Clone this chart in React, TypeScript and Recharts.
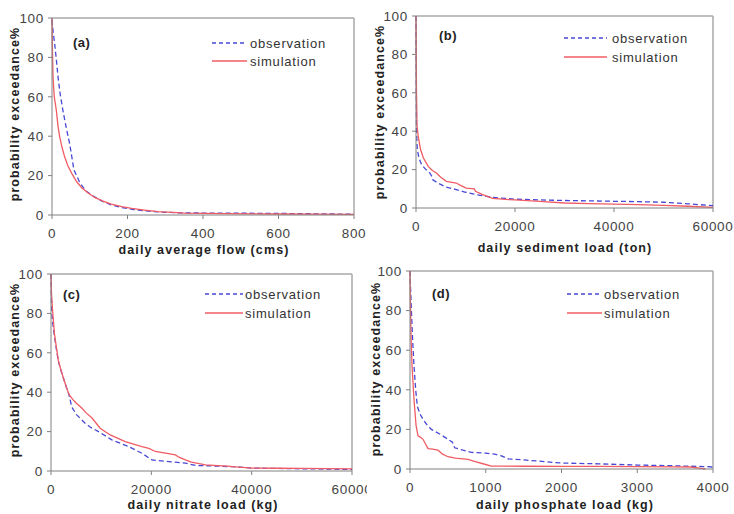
import React from "react";
import { LineChart, Line, XAxis, YAxis, ReferenceLine } from "recharts";

// (a) daily average flow (cms)
const flowObsX = [0, 3, 7, 12, 16, 22, 29, 38, 47, 58, 65, 75, 91, 110, 131, 155, 184, 215, 246, 290, 334, 400, 500, 600, 700, 800];
const flowObsY = [99, 93, 87, 78, 70, 61, 53, 44, 36, 23, 20, 16, 12, 9.5, 7.2, 5.3, 3.8, 2.8, 2.1, 1.5, 1.1, 1.0, 0.9, 0.8, 0.6, 0.4];
const flowSimX = [0, 1, 2.7, 6, 11.6, 16, 20.4, 27, 33.7, 42, 53, 65, 78, 95, 113, 135, 157, 185, 211, 245, 281, 320, 352, 450, 600, 700, 800];
const flowSimY = [100, 85, 70, 60, 53, 45, 39.7, 34, 29.4, 25, 20.9, 17, 14, 11.3, 8.9, 7, 5.5, 4.3, 3.4, 2.5, 1.7, 1.3, 1.0, 0.7, 0.5, 0.4, 0.3];

// (b) daily sediment load (ton)
const sedObsX = [0, 100, 267, 600, 1133, 2000, 2800, 3330, 3400, 4400, 6000, 8130, 10000, 12130, 15470, 17000, 20000, 25000, 30000, 35000, 40000, 45000, 50000, 55000, 60000];
const sedObsY = [100, 40, 30.3, 26, 22.5, 20, 18.2, 16, 14.7, 13, 11, 9.6, 8.2, 7.0, 5.5, 5.2, 4.6, 4.2, 3.9, 3.7, 3.5, 3.3, 3.0, 2.2, 1.2];
const sedSimX = [0, 100, 200, 467, 933, 1500, 2470, 3300, 4130, 5000, 6130, 7000, 8130, 9000, 10130, 11800, 12000, 13470, 15470, 18800, 20000, 25000, 30000, 35000, 40000, 45000, 50000, 55000, 60000];
const sedSimY = [100, 60, 43, 37, 30.3, 26, 21.7, 19.5, 18.2, 16, 13.9, 13.5, 13, 11.8, 10.4, 10, 8.7, 7, 5.0, 4.4, 4.2, 3.4, 2.6, 2.3, 2.0, 1.8, 1.4, 0.9, 0.3];

// (c) daily nitrate load (kg)
const nitObsX = [0, 133, 300, 667, 1000, 1470, 2000, 2470, 3000, 3600, 4000, 4270, 5130, 6800, 8000, 9470, 12130, 15470, 18130, 20130, 23470, 26800, 28800, 32000, 36000, 40000, 45000, 50000, 55000, 60000];
const nitObsY = [100, 81, 76, 69, 63, 55.6, 51, 47.2, 43, 38.7, 34, 31.9, 28.5, 24.2, 22, 20, 15.8, 12.4, 9, 5.6, 4.8, 4.0, 2.8, 2.6, 2.2, 1.5, 1.3, 1.1, 1.0, 0.8];
const nitSimX = [0, 100, 333, 667, 1000, 1470, 2000, 2470, 3000, 3600, 4470, 5000, 6130, 7000, 8130, 9800, 11800, 14800, 18130, 19500, 20800, 24800, 25500, 26800, 28000, 30800, 35000, 40000, 45000, 50000, 55000, 60000];
const nitSimY = [100, 90, 81, 70, 64, 56, 51, 47.2, 43, 38.7, 36, 34.5, 32, 29.5, 27, 21.7, 18.3, 14.9, 12.4, 11.5, 9.9, 8.2, 7, 5.6, 4.5, 3.1, 2.5, 1.5, 1.4, 1.3, 1.2, 1.1];

// (d) daily phosphate load (kg)
const phoObsX = [0, 5, 18, 35, 53, 75, 97, 130, 172, 220, 282, 400, 502, 560, 590, 700, 810, 1000, 1119, 1208, 1295, 1500, 1691, 2000, 2500, 3000, 3500, 3900, 4000];
const phoObsY = [100, 94, 80.7, 65, 52, 40, 31.6, 28, 25, 22.5, 20, 17.5, 15, 13.5, 10.7, 9.5, 8.4, 8, 7.5, 6.6, 5.1, 4.6, 4.0, 3.0, 2.6, 2.0, 1.6, 1.2, 1.0];
const phoSimX = [0, 5, 15, 27, 53, 80, 106, 140, 172, 200, 238, 300, 370, 430, 502, 600, 766, 850, 986, 1075, 1500, 2000, 2500, 3000, 3500, 3700, 3850, 3900];
const phoSimY = [100, 85, 65, 52, 35, 22, 16.7, 16, 15, 13, 10.3, 10, 9.5, 7.5, 6.2, 5.5, 4.9, 3.8, 2.4, 1.5, 1.4, 1.3, 1.3, 1.2, 1.1, 1.0, 0.3, 0];

const yTicks = [0, 20, 40, 60, 80, 100];
const flowTicks = [0, 200, 400, 600, 800];
const sedTicks = [0, 20000, 40000, 60000];
const nitTicks = [0, 20000, 40000, 60000];
const phoTicks = [0, 1000, 2000, 3000, 4000];

const OBS = "#4848d6";
const SIM = "#f05c64";
const FONT = '"Liberation Sans", Arial, sans-serif';

const zip = (xs: number[], ys: number[]) => xs.map((x, i) => ({ x, y: ys[i] }));

const panels = [
  {
    tag: "(a)", xTitle: "daily average flow (cms)", obs: zip(flowObsX, flowObsY), sim: zip(flowSimX, flowSimY),
    ticks: flowTicks, left: 0, top: 0, margin: { top: 18, right: 13, left: 16, bottom: 12 },
    yTitle: [15, 114], xTitlePos: [204, 250], tagPos: [73, 42], legend: { x1: 212, x2: 247, y1: 43, y2: 61, tx: 250 },
  },
  {
    tag: "(b)", xTitle: "daily sediment load (ton)", obs: zip(sedObsX, sedObsY), sim: zip(sedSimX, sedSimY),
    ticks: sedTicks, left: 367, top: 0, margin: { top: 16, right: 21, left: 13, bottom: 19 },
    yTitle: [13, 112], xTitlePos: [198, 248], tagPos: [72, 35], legend: { x1: 197, x2: 240, y1: 38, y2: 57, tx: 245 },
  },
  {
    tag: "(c)", xTitle: "daily nitrate load (kg)", obs: zip(nitObsX, nitObsY), sim: zip(nitSimX, nitSimY),
    ticks: nitTicks, left: 0, top: 257, margin: { top: 17, right: 15, left: 15, bottom: 13 },
    yTitle: [15, 113], xTitlePos: [203, 248], tagPos: [63, 37], legend: { x1: 205, x2: 243, y1: 37, y2: 56, tx: 245 },
  },
  {
    tag: "(d)", xTitle: "daily phosphate load (kg)", obs: zip(phoObsX, phoObsY), sim: zip(phoSimX, phoSimY),
    ticks: phoTicks, left: 367, top: 257, margin: { top: 14, right: 21, left: 7, bottom: 15 },
    yTitle: [9, 112], xTitlePos: [198, 248], tagPos: [65, 36], legend: { x1: 200, x2: 235, y1: 37, y2: 56, tx: 237 },
  },
];

const tickStyle = { fill: "#444", fontSize: 13.5, fontFamily: FONT, letterSpacing: 0.7 };
const titleStyle: React.CSSProperties = {
  position: "absolute", fontWeight: "bold", fontSize: 12.5, color: "#222", letterSpacing: 1.1, whiteSpace: "nowrap",
};

function Panel({ p }: { p: (typeof panels)[number] }) {
  const xMax = p.ticks[p.ticks.length - 1];
  return (
    <div style={{ position: "absolute", left: p.left, top: p.top, width: 367, height: 257, overflow: "hidden" }}>
      <LineChart width={367} height={257} margin={p.margin}>
        <XAxis
          type="number" dataKey="x" domain={[0, xMax]} ticks={p.ticks} interval={0}
          tick={tickStyle} tickSize={4} tickMargin={9} height={30}
          axisLine={{ stroke: "#808080" }} tickLine={{ stroke: "#808080" }}
        />
        <YAxis
          type="number" dataKey="y" domain={[0, 100]} ticks={yTicks} interval={0}
          tick={tickStyle} tickSize={4} tickMargin={4} width={36}
          axisLine={{ stroke: "#808080" }} tickLine={{ stroke: "#808080" }}
        />
        <ReferenceLine y={100} stroke="#a8a8a8" strokeWidth={1.5} />
        <ReferenceLine x={xMax} stroke="#a8a8a8" strokeWidth={1.5} />
        <Line data={p.obs} dataKey="y" stroke={OBS} strokeWidth={1.3} strokeDasharray="5 3" dot={false} isAnimationActive={false} />
        <Line data={p.sim} dataKey="y" stroke={SIM} strokeWidth={1.3} dot={false} isAnimationActive={false} />
      </LineChart>
      <div style={{ ...titleStyle, left: p.yTitle[0], top: p.yTitle[1], transform: "translate(-50%, -50%) rotate(-90deg)" }}>
        probability exceedance%
      </div>
      <div style={{ ...titleStyle, left: p.xTitlePos[0], top: p.xTitlePos[1], transform: "translate(-50%, -50%)" }}>
        {p.xTitle}
      </div>
      <div style={{ ...titleStyle, fontSize: 13, left: p.tagPos[0], top: p.tagPos[1], transform: "translateY(-50%)", letterSpacing: 0.5 }}>
        {p.tag}
      </div>
      <svg style={{ position: "absolute", left: 0, top: 0 }} width={367} height={257} pointerEvents="none">
        <line x1={p.legend.x1} x2={p.legend.x2} y1={p.legend.y1} y2={p.legend.y1} stroke={OBS} strokeWidth={1.3} strokeDasharray="4 3" />
        <line x1={p.legend.x1} x2={p.legend.x2} y1={p.legend.y2} y2={p.legend.y2} stroke={SIM} strokeWidth={1.3} />
        <text x={p.legend.tx} y={p.legend.y1} dy="0.35em" fontSize={13} fill="#333" fontFamily={FONT} letterSpacing={0.8}>observation</text>
        <text x={p.legend.tx} y={p.legend.y2} dy="0.35em" fontSize={13} fill="#333" fontFamily={FONT} letterSpacing={0.8}>simulation</text>
      </svg>
    </div>
  );
}

export default function App() {
  return (
    <div style={{ position: "absolute", left: 0, top: 0, width: 734, height: 514, background: "#fff", fontFamily: FONT }}>
      {panels.map((p) => (
        <Panel key={p.tag} p={p} />
      ))}
    </div>
  );
}
